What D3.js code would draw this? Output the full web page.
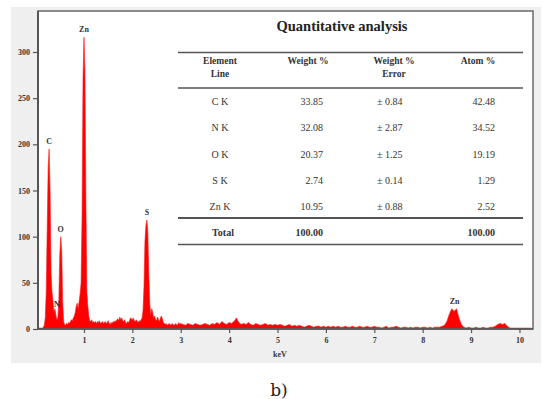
<!DOCTYPE html>
<html><head><meta charset="utf-8">
<script src="https://cdn.jsdelivr.net/npm/d3@7"></script>
<style>body{margin:0;background:#fff}svg{display:block}</style>
</head><body>
<script>
// ---------- DATA ----------
// Spectrum segment 1: 0.04 keV .. 3.00 keV, step 0.02 keV
const seg1Start = 0.04, seg1Step = 0.02;
const seg1Counts = [18,2,1,1,1,1,2,4,12,40,110,175,195,150,60,40,30,18,22,15,10,12,30,80,100,85,30,8,5,4,6,5,7,6,8,10,9,12,14,18,25,28,22,30,38,50,120,270,316,280,140,40,25,14,9,8,10,7,8,
7,8,6,8,7,9,6,7,8,6,7,8,6,7,9,6,5,7,6,8,7,9,8,10,11,9,13,10,12,9,8,10,7,6,8,7,9,12,11,10,12,9,8,10,8,7,9,8,10,12,20,45,95,112,118,105,60,28,15,22,18,12,14,10,9,13,10,8,12,14,11,7,6,5,6,4,5,6,5,4,6,5,4,5,6,4,5,7,5,6];
// Spectrum segment 2: 3.05 keV .. 10.25 keV, step 0.05 keV
const seg2Start = 3.05, seg2Step = 0.05;
const seg2Counts = [5,4,6,5,4,6,5,4,5,6,5,4,6,5,7,5,8,6,5,7,6,8,12,7,5,6,5,7,5,4,6,5,4,5,6,4,5,4,5,4,5,4,3,4,5,3,4,3,4,3,2,3,4,3,2,3,3,2,3,2,3,2,3,2,3,2,2,3,2,2,3,2,2,3,2,2,3,2,2,3,2,2,1,2,3,1,2,2,3,2,1,2,2,1,2,1,2,2,1,2,2,1,2,1,2,2,2,3,4,8,16,22,19,22,12,5,2,1,2,1,1,2,1,1,2,1,1,2,2,3,5,6,5,6,3,1,1,1,1,1,1,1,1,1,1];
const xTicks = [1,2,3,4,5,6,7,8,9,10];
const yTicks = [0,50,100,150,200,250,300];
const peakLabels = ["C","Zn","O","N","S","Zn"];
const peakKeV   = [0.28,1.00,0.52,0.40,2.30,8.66];
const peakCount = [195,316,100,18,118,22];

const tableTitle = "Quantitative analysis";
const tableHeaders = [["Element","Line"],["Weight %"],["Weight %","Error"],["Atom %"]];
const elements = ["C K","N K","O K","S K","Zn K"];
const weightPct = ["33.85","32.08","20.37","2.74","10.95"];
const weightErr = ["± 0.84","± 2.87","± 1.25","± 0.14","± 0.88"];
const atomPct = ["42.48","34.52","19.19","1.29","2.52"];
const totalRow = ["Total","100.00","","100.00"];
const xLabel = "keV";
const caption = "b)";

// ---------- BUILD ----------
const spectrum = [];
seg1Counts.forEach((c,i)=>spectrum.push({e: seg1Start + i*seg1Step, c}));
seg2Counts.forEach((c,i)=>spectrum.push({e: seg2Start + i*seg2Step, c}));

const W = 543, H = 399;
const svg = d3.select("body").append("svg").attr("width",W).attr("height",H);
svg.append("rect").attr("x",11).attr("y",7).attr("width",530).attr("height",356).attr("fill","#efefef");

const L = 38, R = 533, T = 11, B = 329;
const x = d3.scaleLinear().domain([0.05, 10.28]).range([L, R]);
const y = d3.scaleLinear().domain([0, 300]).range([B, 52]);

svg.append("rect").attr("x",L).attr("y",T).attr("width",R-L).attr("height",B-T).attr("fill","#fff");

svg.append("clipPath").attr("id","clip").append("rect").attr("x",L).attr("y",T).attr("width",R-L).attr("height",B-T);

const area = d3.area().x(d=>x(d.e)).y0(y(0)).y1(d=>y(d.c));
svg.append("path").datum(spectrum).attr("clip-path","url(#clip)")
  .attr("d",area).attr("fill","#ff0000").attr("stroke","#ff1a1a").attr("stroke-width",0.6);

// frame
svg.append("rect").attr("x",L).attr("y",T).attr("width",R-L).attr("height",B-T)
  .attr("fill","none").attr("stroke","#6a6a6a").attr("stroke-width",1.5);
svg.append("line").attr("x1",L).attr("x2",L).attr("y1",T).attr("y2",B).attr("stroke","#555").attr("stroke-width",2);

const fontSerif = "'Liberation Serif','Times New Roman',serif";
// axes
const yAxis = svg.append("g").attr("transform",`translate(${L},0)`)
  .call(d3.axisLeft(y).tickValues(yTicks).tickSize(5).tickPadding(3));
const xAxis = svg.append("g").attr("transform",`translate(0,${B})`)
  .call(d3.axisBottom(x).tickValues(xTicks).tickSize(4).tickPadding(4));
[yAxis,xAxis].forEach(g=>{
  g.select(".domain").remove();
  g.selectAll("line").attr("stroke","#555").attr("stroke-width",1.2);
  g.selectAll("text").attr("font-family",fontSerif).attr("font-weight","bold")
   .attr("font-size",8).attr("fill","#333");
});
svg.append("line").attr("x1",L).attr("x2",R).attr("y1",B).attr("y2",B).attr("stroke","#555").attr("stroke-width",1.5);

svg.append("text").attr("x",x(5.05)).attr("y",357).attr("text-anchor","middle")
  .attr("font-family",fontSerif).attr("font-weight","bold").attr("font-size",8).attr("fill","#333").text(xLabel);

// peak labels
peakLabels.forEach((t,i)=>{
  svg.append("text").attr("x",x(peakKeV[i])+(t==="N"?2:0)).attr("y",y(peakCount[i])-5)
    .attr("text-anchor","middle").attr("font-family",fontSerif).attr("font-weight","bold")
    .attr("font-size",8).attr("fill","#333").text(t);
});

// table
const tg = svg.append("g").attr("font-family",fontSerif).attr("fill","#333");
tg.append("text").attr("x",342).attr("y",31).attr("text-anchor","middle")
  .attr("font-weight","bold").attr("font-size",14.5).attr("fill","#222").text(tableTitle);
const hline = (yy,w)=>tg.append("line").attr("x1",178).attr("x2",523).attr("y1",yy).attr("y2",yy)
  .attr("stroke","#555").attr("stroke-width",w);
hline(52.5,1.5); hline(88,1.5); hline(218,2); hline(244.5,1.3);
const colX = [220,308,394,478];
tableHeaders.forEach((h,i)=>{
  h.forEach((line,j)=>{
    tg.append("text").attr("x",colX[i]).attr("y",64+j*13).attr("text-anchor","middle")
      .attr("font-weight","bold").attr("font-size",9.5).text(line);
  });
});
const rowY = [105,131,158,184,210];
elements.forEach((el,i)=>{
  tg.append("text").attr("x",220).attr("y",rowY[i]).attr("text-anchor","middle").attr("font-size",10).text(el);
  tg.append("text").attr("x",323).attr("y",rowY[i]).attr("text-anchor","end").attr("font-size",10).text(weightPct[i]);
  tg.append("text").attr("x",377).attr("y",rowY[i]).attr("text-anchor","start").attr("font-size",10).text(weightErr[i]);
  tg.append("text").attr("x",495).attr("y",rowY[i]).attr("text-anchor","end").attr("font-size",10).text(atomPct[i]);
});
tg.append("text").attr("x",223).attr("y",236).attr("text-anchor","middle").attr("font-weight","bold").attr("font-size",10).text(totalRow[0]);
tg.append("text").attr("x",323).attr("y",236).attr("text-anchor","end").attr("font-weight","bold").attr("font-size",10).text(totalRow[1]);
tg.append("text").attr("x",495).attr("y",236).attr("text-anchor","end").attr("font-weight","bold").attr("font-size",10).text(totalRow[3]);

svg.append("text").attr("x",279).attr("y",396).attr("text-anchor","middle")
  .attr("font-family","'DejaVu Serif',serif").attr("font-size",17).attr("fill","#222").text(caption);
</script>
</body></html>
